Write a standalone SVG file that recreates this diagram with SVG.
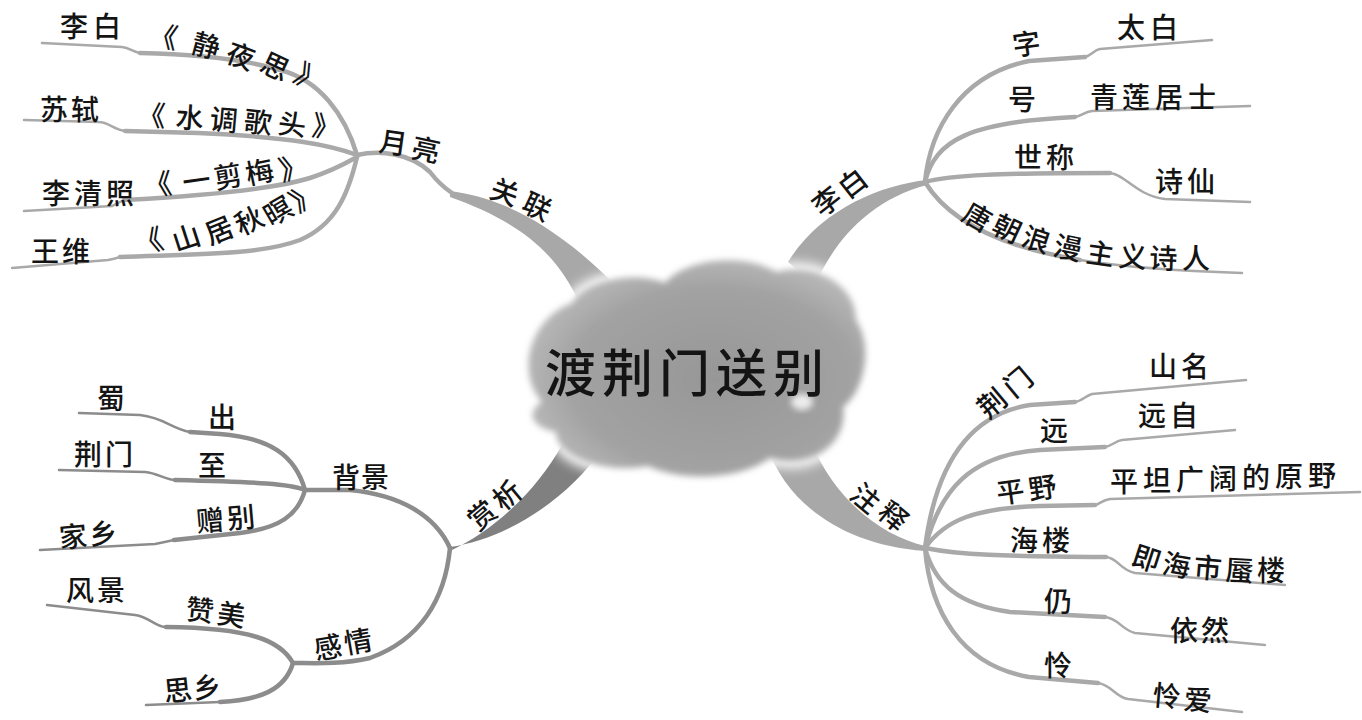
<svg xmlns="http://www.w3.org/2000/svg" width="1362" height="720" viewBox="0 0 1362 720">
<defs>
<style>
text{font-family:"Noto Sans CJK SC","Noto Sans CJK TC",sans-serif;fill:#141414;font-size:28px;font-weight:500}
.a{fill:none;stroke:#a9a9a9;stroke-width:4.5;stroke-linecap:round}
.b{fill:none;stroke:#a9a9a9;stroke-width:2.5;stroke-linecap:round}
.da{fill:none;stroke:#8c8c8c;stroke-width:4.5;stroke-linecap:round}
.db{fill:none;stroke:#8c8c8c;stroke-width:2.5;stroke-linecap:round}
.thick{fill:#a8a8a8}
.thickd{fill:#808080}
</style>
<radialGradient id="cg" cx="0.55" cy="0.55" r="0.6">
<stop offset="0" stop-color="#979797"/>
<stop offset="0.7" stop-color="#a2a2a2"/>
<stop offset="1" stop-color="#bcbcbc"/>
</radialGradient>
<filter id="blur" x="-20%" y="-20%" width="140%" height="140%"><feGaussianBlur stdDeviation="3"/></filter>
<filter id="glow" x="-20%" y="-20%" width="140%" height="140%"><feGaussianBlur stdDeviation="6"/></filter>
</defs>
<rect width="1362" height="720" fill="#ffffff"/>
<g id="connectors">
<path class="thick" d="M450,191 C490,196 545,215 612,282 L578,300 C560,262 530,225 450,197 Z"/>
<path class="thick" d="M927,180 C880,185 820,210 788,262 L815,285 C835,240 870,200 927,185 Z"/>
<path class="thick" d="M925,546 C880,535 835,500 810,440 L768,448 C785,500 840,545 925,551 Z"/>
<path class="thickd" d="M450,547 C500,540 565,505 605,445 L562,445 C537,490 495,530 450,551 Z"/>
<path class="a" d="M357,155 C380,150 410,153 430,172 Q440,185 452,193"/>
<path class="a" d="M357,155 C345,115 320,80 280,70 C240,58 190,54 140,53"/>
<path class="b" d="M140,53 C133,52 130,48 122,47 L42,43"/>
<path class="a" d="M357,155 C330,145 290,137 198,133 L125,131"/>
<path class="b" d="M125,131 C115,130 108,122 99,122 L24,120"/>
<path class="a" d="M357,157 C348,162 335,170 310,178 C270,190 200,196 124,200"/>
<path class="b" d="M124,200 Q118,203 112,206 L24,211"/>
<path class="a" d="M357,157 C348,195 335,225 300,240 C260,255 200,254 120,257"/>
<path class="b" d="M120,257 Q114,259 108,260 L12,268"/>
<path class="a" d="M925,182 C930,130 960,75 1029,61 L1085,57"/>
<path class="b" d="M1085,57 C1092,55 1094,50 1100,49 L1212,40"/>
<path class="a" d="M925,182 C935,140 970,122 1075,117"/>
<path class="b" d="M1075,117 C1082,116 1084,112 1092,111 L1250,106"/>
<path class="a" d="M925,182 C950,175 1000,173 1110,173"/>
<path class="b" d="M1110,173 C1125,174 1135,195 1165,199 L1250,202"/>
<path class="a" d="M925,182 C945,215 990,245 1080,260"/>
<path class="b" d="M1080,260 C1130,268 1180,271 1242,273"/>
<path class="a" d="M925,548 C935,470 965,415 1030,405 L1075,402"/>
<path class="b" d="M1075,402 C1082,401 1085,396 1092,394 L1246,380"/>
<path class="a" d="M925,548 C940,490 970,455 1040,450 L1105,447"/>
<path class="b" d="M1105,447 C1112,446 1115,441 1122,440 L1235,430"/>
<path class="a" d="M925,548 C945,520 975,508 1040,506 L1095,505"/>
<path class="b" d="M1095,505 C1100,504 1102,500 1110,499 L1360,492"/>
<path class="a" d="M925,548 C960,555 1000,556 1106,557"/>
<path class="b" d="M1106,557 C1118,558 1120,570 1135,573 L1285,585"/>
<path class="a" d="M925,548 C935,585 960,605 1010,612 L1105,617"/>
<path class="b" d="M1105,617 C1118,618 1122,630 1135,633 L1265,645"/>
<path class="a" d="M925,548 C930,610 960,665 1029,677 L1098,683"/>
<path class="b" d="M1098,683 C1112,685 1115,697 1128,699 L1242,712"/>
<path class="da" d="M450,548 C435,515 400,495 350,490 L305,490"/>
<path class="da" d="M450,548 C445,600 420,640 370,658 C340,665 310,663 293,663"/>
<path class="da" d="M305,490 C295,455 270,438 220,434 L190,432"/>
<path class="db" d="M190,432 C170,428 165,418 140,415 L79,413"/>
<path class="da" d="M305,490 C290,484 260,482 175,480"/>
<path class="db" d="M175,480 C165,480 158,473 145,472 L59,470"/>
<path class="da" d="M305,490 C298,515 280,528 240,533 L174,540"/>
<path class="db" d="M174,540 Q165,542 155,544 L40,550"/>
<path class="da" d="M293,663 C280,640 250,628 166,627"/>
<path class="db" d="M166,627 C155,627 150,617 135,615 L47,605"/>
<path class="da" d="M293,663 C285,690 260,700 220,702"/>
<path class="db" d="M220,702 L146,705"/>
</g>
<g id="center">
<path d="M542,402 C515,372 530,318 572,303 C588,277 640,272 665,283 C685,259 742,252 777,272 C814,262 856,284 856,320 C874,346 864,392 843,407 C848,444 812,470 770,458 C740,480 680,482 648,466 C606,474 556,458 556,432 C530,427 526,412 542,402 Z" fill="#ffffff" stroke="#ffffff" stroke-width="14" filter="url(#glow)"/>
<path d="M542,402 C515,372 530,318 572,303 C588,277 640,272 665,283 C685,259 742,252 777,272 C814,262 856,284 856,320 C874,346 864,392 843,407 C848,444 812,470 770,458 C740,480 680,482 648,466 C606,474 556,458 556,432 C530,427 526,412 542,402 Z" fill="url(#cg)" filter="url(#blur)"/>
<ellipse cx="802" cy="402" rx="11" ry="8" fill="#ececec" filter="url(#blur)"/>
<text x="545 602 659 716 773" y="392" style="font-size:51px">渡荆门送别</text>
</g>
<g id="guanlian">
<text x="488 520" y="197 210" rotate="20 25">关联</text>
</g>
<g id="yueliang">
<text x="378 410" y="151 157" rotate="8 12">月亮</text>
</g>
<g id="libai-jingyesi">
<text x="60 93" y="37">李白</text>
<text x="148 190 224 258 292" y="44 52 61 70 80" rotate="10 15 20 25 30">《静夜思》</text>
</g>
<g id="sushi">
<text x="40 71" y="120">苏轼</text>
<text x="137 175 209 243 277 311" y="125 127 129 131 133 135" rotate="3 4 5 6 7 8">《水调歌头》</text>
</g>
<g id="liqingzhao">
<text x="42 74 106" y="204">李清照</text>
<text x="145 184 216 248 282" y="196 193 189 185 181" rotate="-6 -8 -10 -12 -14">《一剪梅》</text>
</g>
<g id="wangwei">
<text x="31 62" y="262">王维</text>
<text x="138 176 210 241 271 298" y="255 252 245 236 227 213" rotate="-15 -18 -22 -26 -30 -32">《山居秋暝》</text>
</g>
<g id="libai">
<text x="822 848" y="218 200" rotate="-38 -38">李白</text>
</g>
<g id="zi"><text x="1014" y="56" rotate="-8">字</text><text x="1117 1150" y="38">太白</text></g>
<g id="hao"><text x="1008" y="110">号</text><text x="1090 1122 1155 1188" y="108">青莲居士</text></g>
<g id="shicheng"><text x="1014 1046" y="168">世称</text><text x="1155 1187" y="192">诗仙</text></g>
<g id="tangchao"><text x="960 990 1020 1052 1085 1118 1149 1182" y="219 232 245 255 262 266 268 269" rotate="30 25 18 12 8 4 2 0">唐朝浪漫主义诗人</text></g>
<g id="zhushi"><text x="848 876" y="497 515" rotate="40 40">注释</text></g>
<g id="jingmen"><text x="988 1014" y="420 399" rotate="-40 -40">荆门</text><text x="1149 1181" y="377">山名</text></g>
<g id="yuan"><text x="1040" y="441">远</text><text x="1138 1170" y="426">远自</text></g>
<g id="pingye"><text x="998 1030" y="504 500" rotate="-8 -8">平野</text><text x="1110 1143 1176 1209 1242 1275 1308" y="492 491 490 489 488 487 486">平坦广阔的原野</text></g>
<g id="hailou"><text x="1010 1042" y="551">海楼</text><text x="1130 1161 1193 1225 1257" y="564 573 577 580 581" rotate="18 10 5 3 0">即海市蜃楼</text></g>
<g id="reng"><text x="1044" y="612">仍</text><text x="1170 1201" y="641">依然</text></g>
<g id="lian"><text x="1044" y="676">怜</text><text x="1152 1183" y="705 709" rotate="5 5">怜爱</text></g>
<g id="shangxi"><text x="478 503" y="532 512" rotate="-40 -40">赏析</text></g>
<g id="beijing"><text x="332 361" y="488">背景</text></g>
<g id="chu"><text x="97" y="409">蜀</text><text x="208" y="428">出</text></g>
<g id="zhi"><text x="74 105" y="465">荆门</text><text x="198" y="476">至</text></g>
<g id="zengbie"><text x="197 228" y="532 529" rotate="-5 -5">赠别</text><text x="60 90" y="548 545" rotate="-5 -5">家乡</text></g>
<g id="ganqing"><text x="316 346" y="660 654" rotate="-10 -10">感情</text></g>
<g id="zanmei"><text x="66 97" y="601">风景</text><text x="185 216" y="619 623" rotate="6 8">赞美</text></g>
<g id="sixiang"><text x="165 194" y="702 699" rotate="-6 -6">思乡</text></g>
</svg>
